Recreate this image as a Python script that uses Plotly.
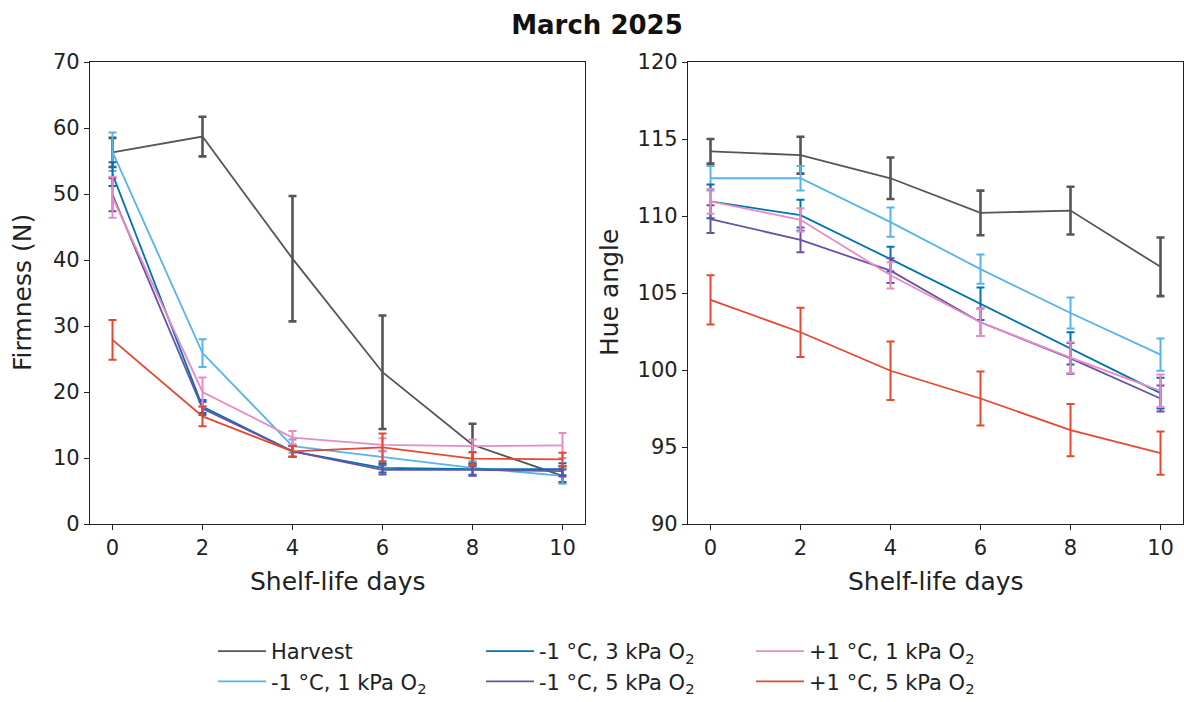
import plotly.graph_objects as go

days = [0, 2, 4, 6, 8, 10]

names = [
    "Harvest",
    "-1 °C, 1 kPa O<sub>2</sub>",
    "-1 °C, 3 kPa O<sub>2</sub>",
    "-1 °C, 5 kPa O<sub>2</sub>",
    "+1 °C, 1 kPa O<sub>2</sub>",
    "+1 °C, 5 kPa O<sub>2</sub>",
]
colors = ["#555555", "#56B4E9", "#0072B2", "#6A51A3", "#E88AC6", "#E6472F"]

# Firmness (N)
firm_harvest = [56.3, 58.7, 40.2, 23.0, 12.0, 7.3]
firm_harvest_err = [2.2, 3.0, 9.5, 8.6, 3.2, 1.0]
firm_m1_1 = [56.4, 25.9, 11.8, 10.1, 8.5, 7.3]
firm_m1_1_err = [2.9, 2.1, 1.0, 1.0, 1.0, 1.2]
firm_m1_3 = [53.0, 17.8, 11.0, 8.5, 8.3, 8.3]
firm_m1_3_err = [1.8, 1.0, 0.8, 0.7, 0.9, 0.9]
firm_m1_5 = [49.9, 17.5, 11.0, 8.2, 8.2, 8.0]
firm_m1_5_err = [2.5, 1.0, 0.8, 0.7, 0.9, 0.8]
firm_p1_1 = [49.5, 20.0, 13.1, 12.0, 11.8, 11.9]
firm_p1_1_err = [3.1, 2.2, 1.0, 1.0, 1.0, 1.9]
firm_p1_5 = [27.9, 16.3, 11.0, 11.6, 9.9, 9.8]
firm_p1_5_err = [3.0, 1.5, 0.8, 2.1, 1.0, 1.0]

# Hue angle
hue_harvest = [114.2, 113.95, 112.45, 110.2, 110.35, 106.7]
hue_harvest_err = [0.8, 1.2, 1.35, 1.45, 1.55, 1.9]
hue_m1_1 = [112.45, 112.45, 109.6, 106.55, 103.7, 101.0]
hue_m1_1_err = [0.8, 0.8, 0.95, 0.95, 1.0, 1.05]
hue_m1_3 = [110.95, 110.05, 107.2, 104.3, 101.4, 98.5]
hue_m1_3_err = [1.1, 1.0, 0.8, 1.05, 1.05, 1.0]
hue_m1_5 = [109.8, 108.45, 106.45, 103.1, 100.75, 98.15]
hue_m1_5_err = [0.9, 0.8, 0.8, 0.9, 1.0, 0.85]
hue_p1_1 = [110.95, 109.75, 106.15, 103.1, 100.8, 98.65]
hue_p1_1_err = [0.8, 0.75, 0.85, 0.9, 1.0, 1.05]
hue_p1_5 = [104.55, 102.45, 99.95, 98.15, 96.1, 94.6]
hue_p1_5_err = [1.6, 1.6, 1.9, 1.75, 1.7, 1.4]

firm = [firm_harvest, firm_m1_1, firm_m1_3, firm_m1_5, firm_p1_1, firm_p1_5]
firm_err = [firm_harvest_err, firm_m1_1_err, firm_m1_3_err, firm_m1_5_err, firm_p1_1_err, firm_p1_5_err]
hue = [hue_harvest, hue_m1_1, hue_m1_3, hue_m1_5, hue_p1_1, hue_p1_5]
hue_err = [hue_harvest_err, hue_m1_1_err, hue_m1_3_err, hue_m1_5_err, hue_p1_1_err, hue_p1_5_err]

legend_ids = ["legend", "legend", "legend2", "legend2", "legend3", "legend3"]

fig = go.Figure()
for i in range(6):
    ew = 2.6 if i == 0 else 2
    fig.add_trace(go.Scatter(
        x=days, y=firm[i], mode="lines", name=names[i],
        line=dict(color=colors[i], width=1.8),
        error_y=dict(type="data", array=firm_err[i], visible=True, color=colors[i], thickness=ew, width=4),
        xaxis="x", yaxis="y", legend=legend_ids[i], showlegend=True,
    ))
for i in range(6):
    ew = 2.6 if i == 0 else 2
    fig.add_trace(go.Scatter(
        x=days, y=hue[i], mode="lines", name=names[i],
        line=dict(color=colors[i], width=1.8),
        error_y=dict(type="data", array=hue_err[i], visible=True, color=colors[i], thickness=ew, width=4),
        xaxis="x2", yaxis="y2", showlegend=False,
    ))

font = "DejaVu Sans, sans-serif"
axis_common = dict(
    showline=True, linecolor="#222222", linewidth=1.2, mirror=True,
    ticks="outside", ticklen=5, tickwidth=1.2, tickcolor="#222222",
    showgrid=False, zeroline=False, automargin=False,
    tickfont=dict(family=font, size=21, color="#222222"),
)
y_top = 62
y_bot = 524
ydom = [1 - y_bot / 702, 1 - y_top / 702]
ymid = 1 - (y_top + y_bot) / 2 / 702
legend_common = dict(
    orientation="v", bgcolor="rgba(0,0,0,0)", borderwidth=0,
    font=dict(family=font, size=21, color="#222222"),
    tracegroupgap=0, yanchor="bottom", xanchor="left", itemwidth=48, y=0,
)
title_font = dict(family=font, size=25, color="#222222")
fig.update_layout(
    width=1184, height=702,
    margin=dict(l=0, r=0, t=0, b=0),
    paper_bgcolor="white", plot_bgcolor="white",
    title=dict(text="<b>March 2025</b>", x=597 / 1184, xanchor="center", y=1 - 25 / 702, yanchor="middle",
               font=dict(family=font, size=26, color="#111111")),
    xaxis=dict(domain=[90 / 1184, 585 / 1184], range=[-0.5, 10.5], tickvals=days, anchor="y", **axis_common),
    yaxis=dict(domain=ydom, range=[0, 70], tickvals=[0, 10, 20, 30, 40, 50, 60, 70], anchor="x", **axis_common),
    xaxis2=dict(domain=[688 / 1184, 1183 / 1184], range=[-0.5, 10.5], tickvals=days, anchor="y2", **axis_common),
    yaxis2=dict(domain=ydom, range=[90, 120], tickvals=[90, 95, 100, 105, 110, 115, 120], anchor="x2", **axis_common),
    legend=dict(x=213 / 1184, **legend_common),
    legend2=dict(x=481 / 1184, **legend_common),
    legend3=dict(x=751 / 1184, **legend_common),
    annotations=[
        dict(text="Shelf-life days", x=(90 + 585) / 2 / 1184, y=1 - 581 / 702, xref="paper", yref="paper",
             xanchor="center", yanchor="middle", showarrow=False, font=title_font),
        dict(text="Shelf-life days", x=(688 + 1183) / 2 / 1184, y=1 - 581 / 702, xref="paper", yref="paper",
             xanchor="center", yanchor="middle", showarrow=False, font=title_font),
        dict(text="Firmness (N)", x=23 / 1184, y=ymid, xref="paper", yref="paper", textangle=-90,
             xanchor="center", yanchor="middle", showarrow=False, font=title_font),
        dict(text="Hue angle", x=610 / 1184, y=ymid, xref="paper", yref="paper", textangle=-90,
             xanchor="center", yanchor="middle", showarrow=False, font=title_font),
    ],
)

fig.write_html("out.html")
